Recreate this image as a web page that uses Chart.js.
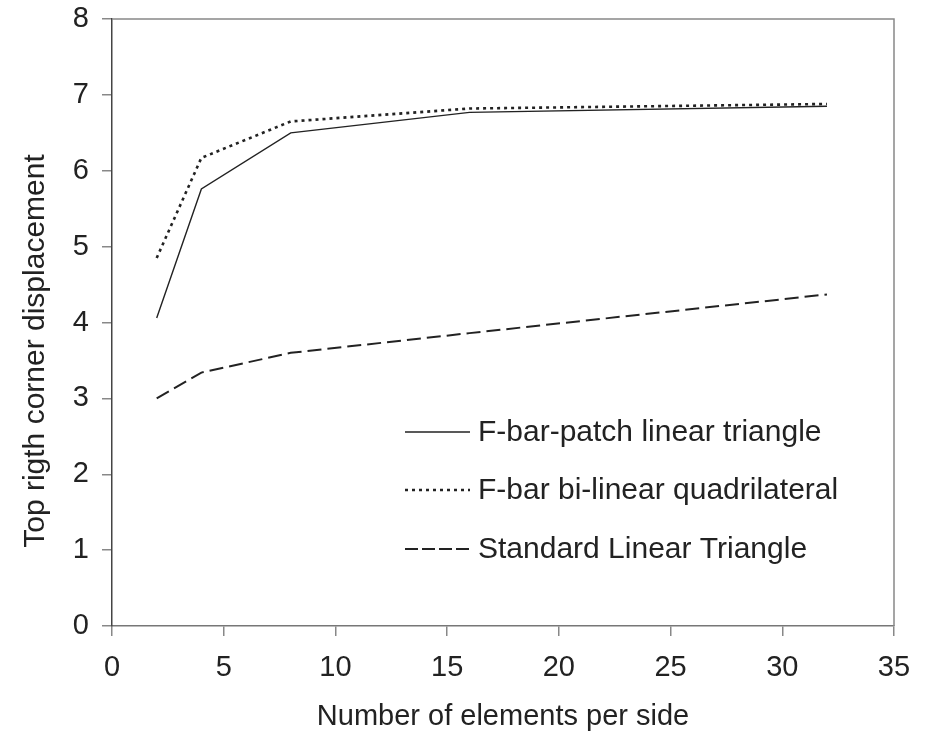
<!DOCTYPE html>
<html>
<head>
<meta charset="utf-8">
<script src="https://cdn.jsdelivr.net/npm/chart.js@4"></script>
<style>
  html, body { margin: 0; padding: 0; background: #fff; }
</style>
</head>
<body>
<canvas id="chart" width="927" height="734"></canvas>
<script>
// data
const elementsPerSide = [2, 4, 8, 16, 32];
const fbarPatchTri = [4.06, 5.76, 6.50, 6.77, 6.85];
const fbarBilinQuad = [4.85, 6.17, 6.65, 6.82, 6.88];
const stdLinearTri = [3.00, 3.34, 3.60, 3.86, 4.37];
const seriesNames = ['F-bar-patch linear triangle', 'F-bar bi-linear quadrilateral', 'Standard Linear Triangle'];
const xTitle = 'Number of elements per side';
const yTitle = 'Top rigth corner displacement';

const FONT = '"Liberation Sans", Arial, Helvetica, sans-serif';
const lineColor = '#222';
const dashes = [[], [3, 4], [14, 6]];
const widths = [1.4, 2.6, 2];
const legendDashes = [[], [3, 4], [13, 4]];

function pts(ys) {
  return elementsPerSide.map((x, i) => ({ x: x, y: ys[i] }));
}

// box round the plot, the inside legend and the y title
const boxAndLegend = {
  id: 'boxAndLegend',
  afterDraw(chart) {
    const ctx = chart.ctx;
    const a = chart.chartArea;
    ctx.save();
    ctx.strokeStyle = '#888';
    ctx.lineWidth = 1.5;
    ctx.beginPath();
    ctx.moveTo(a.left, a.top);
    ctx.lineTo(a.right, a.top);
    ctx.lineTo(a.right, a.bottom);
    ctx.stroke();

    // legend
    const lx = 405, lw = 65, tx = 478;
    const rows = [432, 490, 549];
    ctx.font = '30px ' + FONT;
    ctx.textBaseline = 'middle';
    ctx.fillStyle = '#222';
    seriesNames.forEach((name, i) => {
      ctx.strokeStyle = lineColor;
      ctx.lineWidth = widths[i];
      ctx.setLineDash(legendDashes[i]);
      ctx.beginPath();
      ctx.moveTo(lx, rows[i]);
      ctx.lineTo(lx + lw, rows[i]);
      ctx.stroke();
      ctx.setLineDash([]);
      ctx.fillText(name, tx, rows[i] + 1);
    });

    // y axis title
    ctx.translate(36, 351);
    ctx.rotate(-Math.PI / 2);
    ctx.textAlign = 'center';
    ctx.fillText(yTitle, 0, 0);
    ctx.restore();
  }
};

let ctx = document.getElementById('chart');
let graph = new Chart(ctx, {
  type: 'line',
  data: {
    datasets: seriesNames.map((name, i) => ({
      label: name,
      data: pts([fbarPatchTri, fbarBilinQuad, stdLinearTri][i]),
      borderColor: lineColor,
      borderWidth: widths[i],
      borderDash: dashes[i],
      pointRadius: 0,
      fill: false,
      tension: 0
    }))
  },
  options: {
    responsive: false,
    animation: false,
    layout: { padding: { top: 19, right: 33, left: 0, bottom: 0 } },
    plugins: {
      legend: { display: false },
      tooltip: { enabled: false }
    },
    scales: {
      x: {
        type: 'linear',
        min: 0,
        max: 35,
        ticks: { stepSize: 5, color: '#222', padding: 15, font: { family: FONT, size: 29 } },
        grid: { drawOnChartArea: false, drawTicks: true, tickLength: 10, color: '#888', lineWidth: 1.5 },
        border: { display: true, color: '#777', width: 1.5 },
        title: { display: true, text: xTitle, color: '#222', padding: 0, font: { family: FONT, size: 29 } },
        afterFit(scale) { scale.height = 108; scale.paddingLeft = 0; scale.paddingRight = 0; }
      },
      y: {
        min: 0,
        max: 8,
        ticks: { stepSize: 1, color: '#222', padding: 13, font: { family: FONT, size: 29 } },
        grid: { drawOnChartArea: false, drawTicks: true, tickLength: 10, color: '#888', lineWidth: 1.5 },
        border: { display: true, color: '#444', width: 1.5 },
        afterFit(scale) { scale.width = 112; scale.paddingTop = 0; scale.paddingBottom = 0; }
      }
    }
  },
  plugins: [boxAndLegend]
});
</script>
</body>
</html>
